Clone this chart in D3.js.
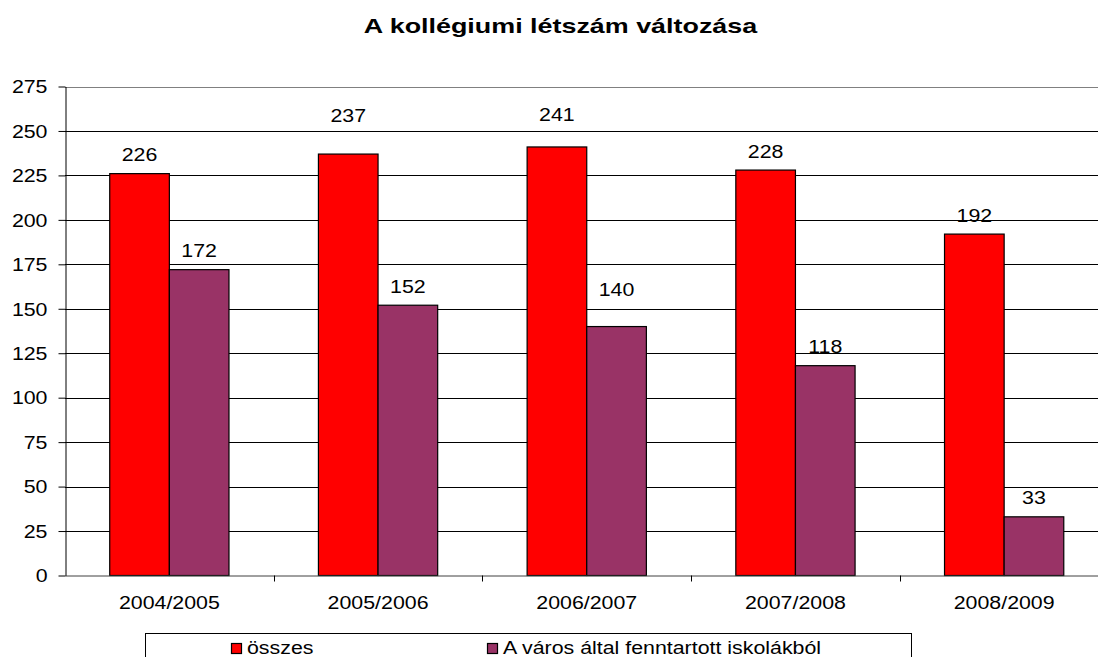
<!DOCTYPE html>
<html><head><meta charset="utf-8">
<script src="https://cdn.jsdelivr.net/npm/d3@7"></script>
<style>body{margin:0;background:#fff}svg{display:block}text{font-family:"Liberation Sans",Arial,sans-serif}</style>
</head><body><svg id="c" width="1098" height="657"></svg>
<script>
const categories = ["2004/2005","2005/2006","2006/2007","2007/2008","2008/2009"];
const seriesNames = ["összes","A város által fenntartott iskolákból"];
const osszes = [226,237,241,228,192];
const varos = [172,152,140,118,33];
const yTicks = [0,25,50,75,100,125,150,175,200,225,250,275];
const colors = ["#ff0000","#993366"];

const FONT = "Liberation Sans, Arial, sans-serif";
const FS = 17.5, SX = 1.22;
const svg = d3.select("#c");
const L = 65, R = 1108.5, T = 86.5, B = 575.5;
const x = d3.scaleBand().domain(categories).range([L,R]).paddingInner(0).paddingOuter(0);
const y = d3.scaleLinear().domain([0,275]).range([B,T]);

function stretch(sel, k){
  sel.each(function(){ const w=this.getComputedTextLength(); this.setAttribute("textLength", w*k); this.setAttribute("lengthAdjust","spacingAndGlyphs"); });
}

const title = svg.append("text").attr("x",560.5).attr("y",33).attr("text-anchor","middle")
  .attr("font-size",21).attr("font-weight","bold").text("A kollégiumi létszám változása");
stretch(title,1.28);

// gridlines
svg.append("g").selectAll("line").data(yTicks.filter(d=>d>0)).join("line")
  .attr("x1",L).attr("x2",R).attr("y1",d=>Math.round(y(d))+0.5).attr("y2",d=>Math.round(y(d))+0.5)
  .attr("stroke",d=>d===275?"#808080":"#000").attr("stroke-width",1);

const bw = x.bandwidth();
const barW = bw/3.5;
const gap = barW*0.75;
const data = categories.map((c,i)=>({c,v:[osszes[i],varos[i]]}));
const nudge = [[0,0],[-20,0],[-13,-18],[0,0],[0,0]];

const g = svg.append("g");
data.forEach((d,i)=>{
  d.v.forEach((v,s)=>{
    const x0 = x(d.c)+gap+s*barW;
    g.append("rect").attr("x",x0).attr("y",y(v)).attr("width",barW).attr("height",y(0)-y(v))
      .attr("fill",colors[s]).attr("stroke","#000").attr("stroke-width",1.2);
    const t = g.append("text").attr("x",x0+barW/2).attr("y",y(v)-12.5+nudge[i][s]).attr("text-anchor","middle")
      .attr("font-size",FS).attr("fill","#000").text(v);
    stretch(t,SX);
  });
});

// y axis
const ya = svg.append("g").attr("transform",`translate(${L+0.5},0)`)
  .call(d3.axisLeft(y).tickValues(yTicks).tickSize(7).tickPadding(11).tickSizeOuter(0));
ya.select(".domain").attr("stroke","#000");
ya.selectAll(".tick line").attr("stroke","#000");
ya.selectAll("text").attr("font-size",FS).attr("font-family",FONT).attr("fill","#000").attr("dy","0.36em");
stretch(ya.selectAll("text"),SX);

// x axis
const xa = svg.append("g").attr("transform",`translate(0,${B})`)
  .call(d3.axisBottom(x).tickSize(0).tickPadding(0).tickSizeOuter(0));
xa.select(".domain").attr("stroke","#404040");
xa.selectAll("text").attr("font-size",FS).attr("font-family",FONT).attr("fill","#000").attr("y",33.5).attr("dy",0);
stretch(xa.selectAll("text"),SX);
// category separator ticks
svg.append("g").selectAll("line").data(d3.range(1,categories.length+1)).join("line")
  .attr("x1",i=>Math.round(L+bw*i)+0.5).attr("x2",i=>Math.round(L+bw*i)+0.5)
  .attr("y1",B).attr("y2",B+6).attr("stroke","#000");

// legend
const lg = svg.append("g");
lg.append("rect").attr("x",145.5).attr("y",633.5).attr("width",766).attr("height",40)
  .attr("fill","#fff").attr("stroke","#000");
const lx = [231,487];
seriesNames.forEach((n,i)=>{
  lg.append("rect").attr("x",lx[i]+0.5).attr("y",643.5).attr("width",10).attr("height",10)
    .attr("fill",colors[i]).attr("stroke","#000").attr("stroke-width",1.2);
  const t = lg.append("text").attr("x",lx[i]+16).attr("y",653.5).attr("font-size",FS).text(n);
  stretch(t,SX);
});
</script></body></html>
